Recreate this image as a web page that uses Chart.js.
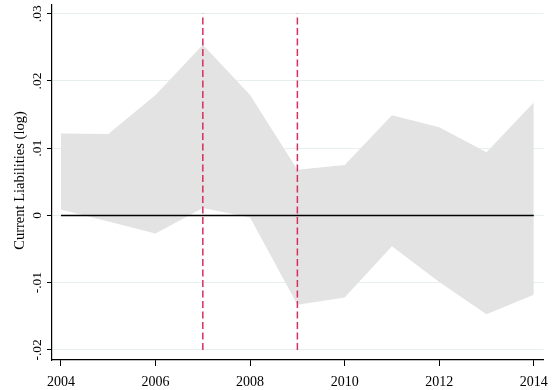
<!DOCTYPE html>
<html>
<head>
<meta charset="utf-8">
<script src="https://cdn.jsdelivr.net/npm/chart.js@4/dist/chart.umd.min.js"></script>
<style>
  html, body { margin: 0; padding: 0; background: #fff; }
  #wrap { width: 556px; height: 390px; }
</style>
</head>
<body>
<div id="wrap"><canvas id="c" width="556" height="390"></canvas></div>
<script>
// Years and the 95% band for the estimated effect on current liabilities
const years = [2004, 2005, 2006, 2007, 2008, 2009, 2010, 2011, 2012, 2013, 2014];
const upperBound = [0.0122, 0.0121, 0.0179, 0.0254, 0.0179, 0.0068, 0.0075, 0.0149, 0.0131, 0.0094, 0.0168];
const lowerBound = [0.0009, -0.0009, -0.0027, 0.0011, -0.0003, -0.0133, -0.0122, -0.0046, -0.0099, -0.0147, -0.0118];

// Reference lines: zero line and the two event years
const zeroLine = [0, 0];
const eventYears = [2007, 2009];
const eventSpan = [-0.02, 0.03];

// Axis ticks
const yTickValues = [-0.02, -0.01, 0, 0.01, 0.02, 0.03];
const yTickLabels = ['-.02', '-.01', '0', '.01', '.02', '.03'];
const xTickValues = [2004, 2006, 2008, 2010, 2012, 2014];
const yTitle = 'Current Liabilities (log)';

const FONT = '"Liberation Serif", "Times New Roman", serif';
const BAND = '#e3e3e3';
const GRID = '#e6f0f1';
const RED = '#d52f5d';

const datasets = [
  {
    label: 'upper',
    data: years.map((x, i) => ({ x, y: upperBound[i] })),
    borderWidth: 0, borderColor: BAND, backgroundColor: BAND,
    pointRadius: 0, fill: '+1', order: 5, tension: 0
  },
  {
    label: 'lower',
    data: years.map((x, i) => ({ x, y: lowerBound[i] })),
    borderWidth: 0, borderColor: BAND, backgroundColor: BAND,
    pointRadius: 0, fill: false, order: 5, tension: 0
  },
  {
    label: 'zero',
    data: [years[0], years[years.length - 1]].map((x, i) => ({ x, y: zeroLine[i] })),
    borderWidth: 1.4, borderColor: '#000', pointRadius: 0, fill: false, order: 2
  }
];
eventYears.forEach(yr => {
  datasets.push({
    label: 'event ' + yr,
    data: eventSpan.map(v => ({ x: yr, y: v })),
    borderWidth: 1.5, borderColor: RED, borderDash: [7, 3.5],
    pointRadius: 0, fill: false, order: 1
  });
});

// Rotated y tick labels and the y-axis title
const yLabels = {
  id: 'yLabels',
  afterDraw(chart) {
    const ctx = chart.ctx;
    const ys = chart.scales.y;
    ctx.save();
    ctx.fillStyle = '#000';
    ctx.font = '13.5px ' + FONT;
    ctx.textAlign = 'center';
    ctx.textBaseline = 'middle';
    yTickValues.forEach((v, i) => {
      const py = ys.getPixelForValue(v);
      ctx.save();
      ctx.translate(37, py);
      ctx.rotate(-Math.PI / 2);
      ctx.fillText(yTickLabels[i], 0, 0);
      ctx.restore();
    });
    const area = chart.chartArea;
    ctx.font = '14.5px ' + FONT;
    ctx.save();
    ctx.translate(20, (area.top + area.bottom) / 2 - 2);
    ctx.rotate(-Math.PI / 2);
    ctx.fillText(yTitle, 0, 0);
    ctx.restore();
    ctx.restore();
  }
};

new Chart(document.getElementById('c'), {
  type: 'line',
  data: { datasets },
  options: {
    responsive: false,
    animation: false,
    events: [],
    layout: { padding: { top: 5, right: 11, left: 0, bottom: 0 } },
    plugins: { legend: { display: false }, tooltip: { enabled: false } },
    scales: {
      x: {
        type: 'linear',
        min: 2003.81,
        max: 2014.21,
        afterBuildTicks: s => { s.ticks = xTickValues.map(v => ({ value: v })); },
        afterFit: s => { s.height = 30; },
        grid: { display: true, drawOnChartArea: false, drawTicks: true, tickLength: 6, tickColor: '#000', tickWidth: 1 },
        border: { display: true, color: '#000', width: 1.2 },
        ticks: {
          color: '#000', padding: 8, maxRotation: 0, autoSkip: false,
          font: { family: FONT, size: 14 },
          callback: v => String(v)
        }
      },
      y: {
        type: 'linear',
        min: -0.0215,
        max: 0.0313,
        afterBuildTicks: s => { s.ticks = yTickValues.map(v => ({ value: v })); },
        afterFit: s => { s.width = 52; },
        grid: { display: true, color: GRID, lineWidth: 1, drawTicks: true, tickLength: 5, tickColor: '#000', tickWidth: 1 },
        border: { display: true, color: '#000', width: 1.2 },
        ticks: { display: false }
      }
    }
  },
  plugins: [yLabels]
});
</script>
</body>
</html>
